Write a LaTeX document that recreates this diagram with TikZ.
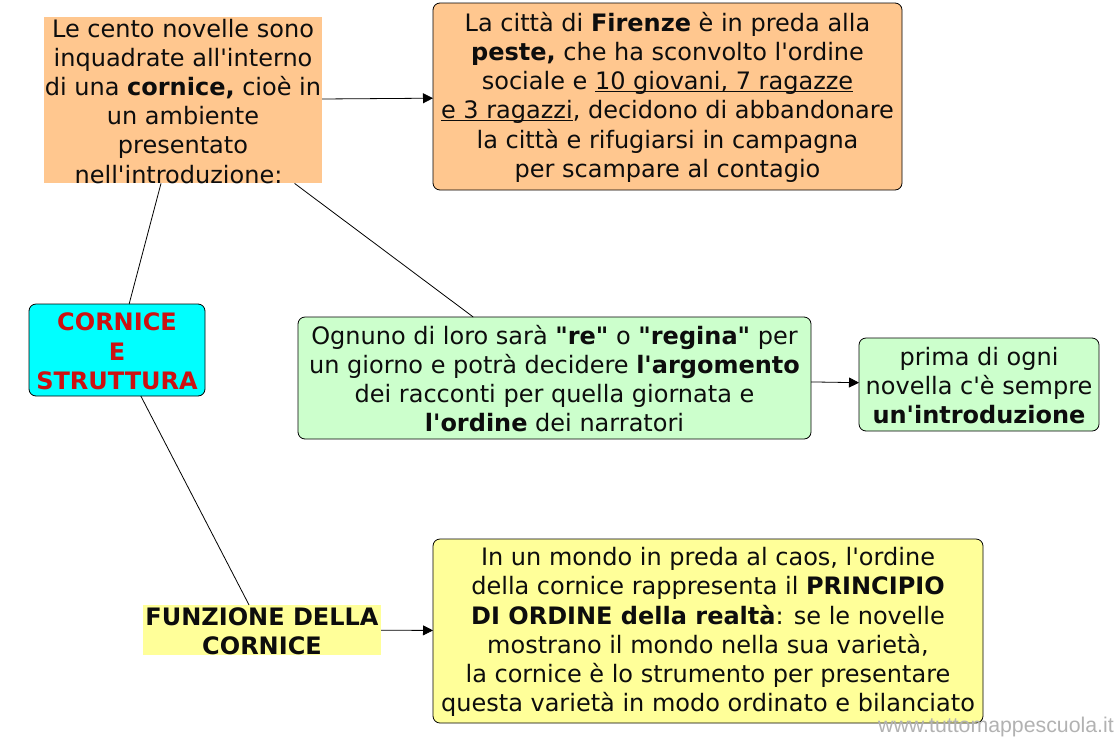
\documentclass[tikz,border=0pt]{standalone}
\usepackage{fontspec}
\newfontfamily\mapfont{DejaVu Sans}
\newfontfamily\markfont{Liberation Sans}
\usetikzlibrary{arrows.meta}
\definecolor{orangebox}{HTML}{FFC78F}
\definecolor{greenbox}{HTML}{CCFFCC}
\definecolor{yellowbox}{HTML}{FFFF99}
\definecolor{cyanbox}{HTML}{00FFFF}
\definecolor{redtitle}{HTML}{CC1111}
\newcommand{\sottolinea}[1]{\underline{\smash{#1}}}
\newcommand{\primariga}{\rule{0pt}{20.5pt}}
\tikzset{
  concept/.style={align=center,inner sep=0pt,outer sep=0pt,
    font=\mapfont\fontsize{24}{29.2}\selectfont,text=black!95},
  roundbox/.style={concept,draw=black,line width=.8pt,rounded corners=7pt},
  flatbox/.style={concept},
  title/.style={font=\mapfont\bfseries\fontsize{24}{29.2}\selectfont},
  link/.style={line width=.8pt},
  arrowlink/.style={link,-{Triangle[length=10pt,width=10pt]}},
}
\begin{document}
\begin{tikzpicture}[x=1pt,y=-1pt,line join=round]
	\useasboundingbox (0,0) rectangle (1116,737);
	\node[flatbox,fill=orangebox,minimum width=278pt,minimum height=166pt] (intro) at (183,100)
		{\primariga Le cento novelle sono\\inquadrate all'interno\\di una \textbf{cornice,} cioè in\\un ambiente\\presentato\\nell'introduzione:\hspace*{9pt}};
	\node[roundbox,fill=orangebox,minimum width=469pt,minimum height=187pt] (peste) at (667.5,96.5)
		{\primariga La città di \textbf{Firenze} è in preda alla\\\textbf{peste,} che ha sconvolto l'ordine\\sociale e \sottolinea{10 giovani, 7 ragazze}\\\sottolinea{e 3 ragazzi}, decidono di abbandonare\\la città e rifugiarsi in campagna\\per scampare al contagio};
	\node[roundbox,fill=cyanbox,minimum width=176pt,minimum height=92pt,text=redtitle,title] (cornice) at (117,350)
		{\primariga CORNICE\\E\\STRUTTURA};
	\node[roundbox,fill=greenbox,minimum width=513pt,minimum height=122pt] (turno) at (554.5,378)
		{\primariga Ognuno di loro sarà \textbf{"re"} o \textbf{"regina"} per\\un giorno e potrà decidere \textbf{l'argomento}\\dei racconti per quella giornata e\\\textbf{l'ordine} dei narratori};
	\node[roundbox,fill=greenbox,minimum width=240pt,minimum height=93pt] (prima) at (979,384.5)
		{\primariga prima di ogni\\novella c'è sempre\\\textbf{un'introduzione}};
	\node[flatbox,fill=yellowbox,minimum width=238pt,minimum height=50pt,title] (funzione) at (262,630)
		{\primariga FUNZIONE DELLA\\CORNICE};
	\node[roundbox,fill=yellowbox,minimum width=550pt,minimum height=184pt] (ordine) at (708,631)
		{\primariga In un mondo in preda al caos, l'ordine\\della cornice rappresenta il \textbf{PRINCIPIO}\\\textbf{DI ORDINE della realtà}: se le novelle\\mostrano il mondo nella sua varietà,\\la cornice è lo strumento per presentare\\questa varietà in modo ordinato e bilanciato};
	\draw[link] (intro)--(cornice);
	\draw[link] (intro)--(turno);
	\draw[link] (cornice)--(funzione);
	\draw[arrowlink] (intro)--(peste);
	\draw[arrowlink] (turno)--(prima);
	\draw[arrowlink] (funzione)--(ordine);
	\node[inner sep=0pt,text=black!30,font=\markfont\fontsize{21.3}{21.3}\selectfont,anchor=east] (sito) at (1114,727) {www.tuttomappescuola.it};
\end{tikzpicture}
\end{document}
